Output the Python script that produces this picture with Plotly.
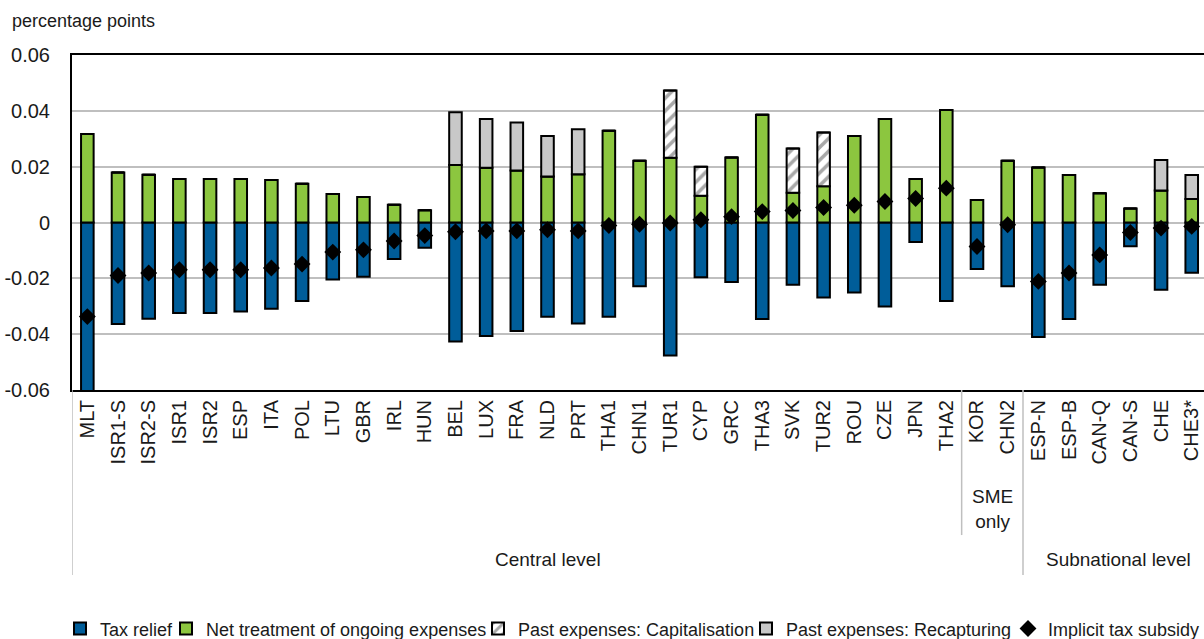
import plotly.graph_objects as go

# Economies / schemes on the horizontal axis
categories = ["MLT", "ISR1-S", "ISR2-S", "ISR1", "ISR2", "ESP", "ITA", "POL", "LTU", "GBR",
              "IRL", "HUN", "BEL", "LUX", "FRA", "NLD", "PRT", "THA1", "CHN1", "TUR1",
              "CYP", "GRC", "THA3", "SVK", "TUR2", "ROU", "CZE", "JPN", "THA2", "KOR",
              "CHN2", "ESP-N", "ESP-B", "CAN-Q", "CAN-S", "CHE", "CHE3*"]

# Components of the implicit tax subsidy (percentage points)
tax_relief = [-0.0654, -0.0364, -0.0345, -0.0324, -0.0324, -0.0319, -0.0309, -0.0281, -0.0204, -0.0194,
              -0.0131, -0.0090, -0.0426, -0.0407, -0.0389, -0.0338, -0.0362, -0.0338, -0.0228, -0.0476,
              -0.0196, -0.0213, -0.0346, -0.0223, -0.0269, -0.0251, -0.0301, -0.0070, -0.0281, -0.0167,
              -0.0228, -0.0410, -0.0346, -0.0223, -0.0085, -0.0241, -0.0180]

net_ongoing = [0.0317, 0.0179, 0.0171, 0.0156, 0.0156, 0.0156, 0.0152, 0.0139, 0.0102, 0.0091,
               0.0064, 0.0044, 0.0206, 0.0196, 0.0186, 0.0165, 0.0173, 0.0329, 0.0221, 0.0232,
               0.0096, 0.0233, 0.0386, 0.0107, 0.0130, 0.0310, 0.0371, 0.0156, 0.0403, 0.0081,
               0.0221, 0.0197, 0.0170, 0.0105, 0.0050, 0.0115, 0.0084]

past_capitalisation = [0, 0, 0, 0, 0, 0, 0, 0, 0, 0,
                       0, 0, 0, 0, 0, 0, 0, 0, 0, 0.0241,
                       0.0104, 0, 0, 0.0158, 0.0192, 0, 0, 0, 0, 0,
                       0, 0, 0, 0, 0, 0, 0]

past_recapturing = [0, 0, 0, 0, 0, 0, 0, 0, 0, 0,
                    0, 0, 0.0189, 0.0175, 0.0172, 0.0145, 0.0161, 0, 0, 0,
                    0, 0, 0, 0, 0, 0, 0, 0, 0, 0,
                    0, 0, 0, 0, 0, 0.0109, 0.0086]

implicit_subsidy = [-0.0337, -0.0190, -0.0181, -0.0169, -0.0169, -0.0169, -0.0163, -0.0149, -0.0106, -0.0098,
                    -0.0066, -0.0047, -0.0033, -0.0030, -0.0030, -0.0026, -0.0030, -0.0011, -0.0006, -0.0002,
                    0.0010, 0.0021, 0.0039, 0.0043, 0.0054, 0.0062, 0.0075, 0.0086, 0.0123, -0.0086,
                    -0.0008, -0.0211, -0.0181, -0.0116, -0.0036, -0.0020, -0.0014]

y_ticks = [-0.06, -0.04, -0.02, 0, 0.02, 0.04, 0.06]
y_tick_text = ["-0.06", "-0.04", "-0.02", "0", "0.02", "0.04", "0.06"]

FONT = "Liberation Sans, Arial, sans-serif"
TEXT_COLOR = "#1a1a1a"
BAR_W = 0.41
OUTLINE = dict(color="black", width=2)

fig = go.Figure()

fig.add_trace(go.Bar(
    x=categories, y=tax_relief, name="Tax relief", width=BAR_W,
    marker=dict(color="#005D99", line=OUTLINE), legendwidth=61,
))
fig.add_trace(go.Bar(
    x=categories, y=net_ongoing, name="Net treatment of ongoing expenses", width=BAR_W,
    marker=dict(color="#8CC63F", line=OUTLINE), legendwidth=267,
))
fig.add_trace(go.Bar(
    x=categories, y=past_capitalisation, name="Past expenses: Capitalisation", width=BAR_W,
    marker=dict(color="white", line=OUTLINE,
                pattern=dict(shape="/", fgcolor="#A8A8A8", bgcolor="white",
                             size=9, solidity=0.4, fillmode="replace")),
    legendwidth=223,
))
fig.add_trace(go.Bar(
    x=categories, y=past_recapturing, name="Past expenses: Recapturing", width=BAR_W,
    marker=dict(color="#C8C8C8", line=OUTLINE), legendwidth=217,
))
fig.add_trace(go.Scatter(
    x=categories, y=implicit_subsidy, name="Implicit tax subsidy", mode="markers",
    marker=dict(symbol="diamond", size=13, color="black"), legendwidth=150,
))

# Group dividers below the category axis
GRID_GREY = "#BFBFBF"
dividers = [(-0.5, -0.552), (28.5, -0.433), (30.5, -0.552)]
shapes = [dict(type="line", xref="x", yref="paper", x0=xd, x1=xd, y0=0, y1=yb,
               line=dict(color=GRID_GREY, width=1.5)) for xd, yb in dividers]

annotations = [
    dict(text="percentage points", xref="paper", yref="paper", x=-0.055, y=1.1,
         xanchor="left", yanchor="middle", showarrow=False,
         font=dict(family=FONT, size=18, color=TEXT_COLOR)),
    dict(text="Central level", xref="x", yref="paper", x=15, y=-0.507,
         xanchor="center", yanchor="middle", showarrow=False,
         font=dict(family=FONT, size=19, color=TEXT_COLOR)),
    dict(text="SME<br>only", xref="x", yref="paper", x=29.5, y=-0.354,
         xanchor="center", yanchor="middle", showarrow=False,
         font=dict(family=FONT, size=19, color=TEXT_COLOR)),
    dict(text="Subnational level", xref="x", yref="paper", x=33.6, y=-0.507,
         xanchor="center", yanchor="middle", showarrow=False,
         font=dict(family=FONT, size=19, color=TEXT_COLOR)),
]

fig.update_layout(
    width=1204, height=639,
    margin=dict(l=72, r=0, t=55, b=249, autoexpand=False),
    paper_bgcolor="white", plot_bgcolor="white",
    barmode="relative", bargap=0.5,
    font=dict(family=FONT, size=19, color=TEXT_COLOR),
    showlegend=True,
    legend=dict(orientation="h", x=-0.0106, xanchor="left", y=-0.713, yanchor="middle",
                font=dict(family=FONT, size=18, color=TEXT_COLOR),
                itemwidth=30, tracegroupgap=0, traceorder="normal"),
    shapes=shapes,
    annotations=annotations,
)

fig.update_xaxes(
    type="category", range=[-0.5, 36.4], tickangle=-90,
    showline=True, linecolor="black", linewidth=2, mirror=True,
    showgrid=False, ticks="", tickfont=dict(family=FONT, size=20, color=TEXT_COLOR),
)
fig.update_yaxes(
    range=[-0.06, 0.06], tickvals=y_ticks, ticktext=y_tick_text,
    showline=True, linecolor="black", linewidth=2, mirror=False,
    showgrid=True, gridcolor=GRID_GREY, gridwidth=1.5,
    zeroline=True, zerolinecolor=GRID_GREY, zerolinewidth=1.5,
    ticks="", ticklabelstandoff=16, tickfont=dict(family=FONT, size=20, color=TEXT_COLOR),
)

fig.write_html("out.html")
